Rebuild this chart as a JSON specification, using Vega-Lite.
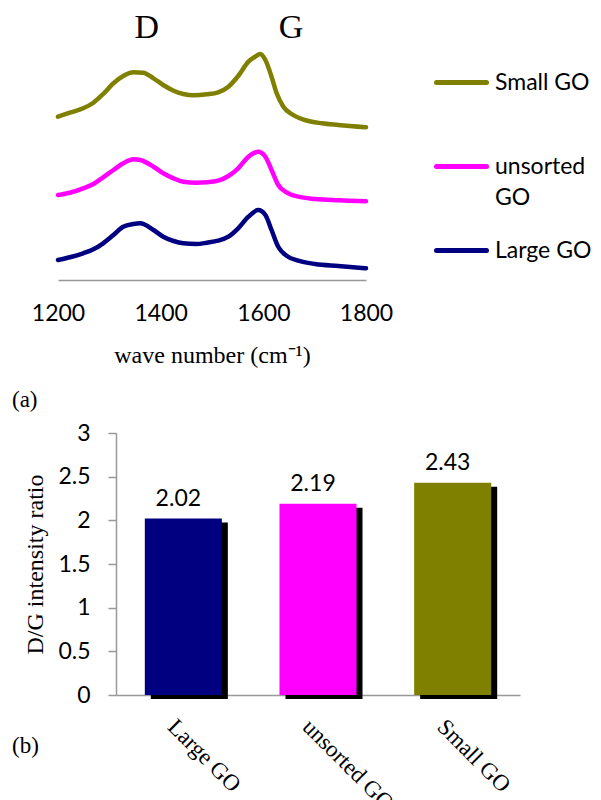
{
  "$schema": "https://vega.github.io/schema/vega-lite/v6.json",
  "background": "white",
  "padding": {"left": 12, "top": 10, "right": 0, "bottom": 0},
  "spacing": 10,
  "resolve": {"scale": {"color": "independent"}, "legend": {"color": "independent"}},
  "config": {
    "view": {"stroke": null},
    "axis": {"grid": false, "domainColor": "#999999", "domainWidth": 1.5, "labelColor": "black", "titleColor": "black", "labelFont": "Lato", "labelFontSize": 23, "titleFont": "Liberation Serif", "titleFontSize": 24, "titleFontWeight": "normal"}
  },
  "vconcat": [
    {
      "width": 250,
      "height": 270,
      "title": {"text": "(a)", "orient": "bottom", "anchor": "start", "frame": "group", "dx": -104, "offset": 22, "font": "Liberation Serif", "fontSize": 23, "fontWeight": "normal", "color": "black"},
      "layer": [
        {
          "data": {"values": [
            {"sample": "Small GO", "wavenumber": 1200, "intensity": 163.3},
            {"sample": "Small GO", "wavenumber": 1223, "intensity": 167.3},
            {"sample": "Small GO", "wavenumber": 1249, "intensity": 171.7},
            {"sample": "Small GO", "wavenumber": 1269, "intensity": 177.3},
            {"sample": "Small GO", "wavenumber": 1288, "intensity": 186},
            {"sample": "Small GO", "wavenumber": 1308, "intensity": 196.7},
            {"sample": "Small GO", "wavenumber": 1327, "intensity": 204},
            {"sample": "Small GO", "wavenumber": 1347, "intensity": 207.7},
            {"sample": "Small GO", "wavenumber": 1366, "intensity": 207.3},
            {"sample": "Small GO", "wavenumber": 1386, "intensity": 201.7},
            {"sample": "Small GO", "wavenumber": 1405, "intensity": 195},
            {"sample": "Small GO", "wavenumber": 1425, "intensity": 189.3},
            {"sample": "Small GO", "wavenumber": 1444, "intensity": 186},
            {"sample": "Small GO", "wavenumber": 1464, "intensity": 184.7},
            {"sample": "Small GO", "wavenumber": 1490, "intensity": 185.7},
            {"sample": "Small GO", "wavenumber": 1512, "intensity": 187.7},
            {"sample": "Small GO", "wavenumber": 1532, "intensity": 193.3},
            {"sample": "Small GO", "wavenumber": 1551, "intensity": 204},
            {"sample": "Small GO", "wavenumber": 1571, "intensity": 218.3},
            {"sample": "Small GO", "wavenumber": 1584, "intensity": 223.3},
            {"sample": "Small GO", "wavenumber": 1594, "intensity": 226},
            {"sample": "Small GO", "wavenumber": 1604, "intensity": 220},
            {"sample": "Small GO", "wavenumber": 1616, "intensity": 203.3},
            {"sample": "Small GO", "wavenumber": 1626, "intensity": 186.7},
            {"sample": "Small GO", "wavenumber": 1639, "intensity": 173.3},
            {"sample": "Small GO", "wavenumber": 1655, "intensity": 166},
            {"sample": "Small GO", "wavenumber": 1681, "intensity": 160},
            {"sample": "Small GO", "wavenumber": 1714, "intensity": 156.7},
            {"sample": "Small GO", "wavenumber": 1746, "intensity": 155},
            {"sample": "Small GO", "wavenumber": 1800, "intensity": 152.7},
            {"sample": "unsorted GO", "wavenumber": 1200, "intensity": 85},
            {"sample": "unsorted GO", "wavenumber": 1223, "intensity": 87.3},
            {"sample": "unsorted GO", "wavenumber": 1249, "intensity": 91.7},
            {"sample": "unsorted GO", "wavenumber": 1269, "intensity": 96},
            {"sample": "unsorted GO", "wavenumber": 1288, "intensity": 102.7},
            {"sample": "unsorted GO", "wavenumber": 1308, "intensity": 110},
            {"sample": "unsorted GO", "wavenumber": 1327, "intensity": 116.7},
            {"sample": "unsorted GO", "wavenumber": 1347, "intensity": 120.7},
            {"sample": "unsorted GO", "wavenumber": 1360, "intensity": 120},
            {"sample": "unsorted GO", "wavenumber": 1386, "intensity": 113.3},
            {"sample": "unsorted GO", "wavenumber": 1405, "intensity": 106.7},
            {"sample": "unsorted GO", "wavenumber": 1425, "intensity": 101.7},
            {"sample": "unsorted GO", "wavenumber": 1444, "intensity": 98.3},
            {"sample": "unsorted GO", "wavenumber": 1470, "intensity": 97.3},
            {"sample": "unsorted GO", "wavenumber": 1490, "intensity": 97.7},
            {"sample": "unsorted GO", "wavenumber": 1512, "intensity": 99.3},
            {"sample": "unsorted GO", "wavenumber": 1532, "intensity": 104},
            {"sample": "unsorted GO", "wavenumber": 1551, "intensity": 111.7},
            {"sample": "unsorted GO", "wavenumber": 1571, "intensity": 123.3},
            {"sample": "unsorted GO", "wavenumber": 1590, "intensity": 128.3},
            {"sample": "unsorted GO", "wavenumber": 1604, "intensity": 123.3},
            {"sample": "unsorted GO", "wavenumber": 1616, "intensity": 110},
            {"sample": "unsorted GO", "wavenumber": 1629, "intensity": 95},
            {"sample": "unsorted GO", "wavenumber": 1646, "intensity": 87.3},
            {"sample": "unsorted GO", "wavenumber": 1668, "intensity": 83.3},
            {"sample": "unsorted GO", "wavenumber": 1701, "intensity": 81},
            {"sample": "unsorted GO", "wavenumber": 1746, "intensity": 79.7},
            {"sample": "unsorted GO", "wavenumber": 1800, "intensity": 78.7},
            {"sample": "Large GO", "wavenumber": 1200, "intensity": 20},
            {"sample": "Large GO", "wavenumber": 1223, "intensity": 22.7},
            {"sample": "Large GO", "wavenumber": 1249, "intensity": 26.7},
            {"sample": "Large GO", "wavenumber": 1269, "intensity": 30.7},
            {"sample": "Large GO", "wavenumber": 1288, "intensity": 36.7},
            {"sample": "Large GO", "wavenumber": 1308, "intensity": 45},
            {"sample": "Large GO", "wavenumber": 1327, "intensity": 53.3},
            {"sample": "Large GO", "wavenumber": 1347, "intensity": 56},
            {"sample": "Large GO", "wavenumber": 1360, "intensity": 56.7},
            {"sample": "Large GO", "wavenumber": 1386, "intensity": 50},
            {"sample": "Large GO", "wavenumber": 1405, "intensity": 43.3},
            {"sample": "Large GO", "wavenumber": 1425, "intensity": 39},
            {"sample": "Large GO", "wavenumber": 1444, "intensity": 36.7},
            {"sample": "Large GO", "wavenumber": 1470, "intensity": 36},
            {"sample": "Large GO", "wavenumber": 1490, "intensity": 37.3},
            {"sample": "Large GO", "wavenumber": 1512, "intensity": 39.3},
            {"sample": "Large GO", "wavenumber": 1532, "intensity": 43.3},
            {"sample": "Large GO", "wavenumber": 1551, "intensity": 51.7},
            {"sample": "Large GO", "wavenumber": 1571, "intensity": 63.3},
            {"sample": "Large GO", "wavenumber": 1590, "intensity": 70},
            {"sample": "Large GO", "wavenumber": 1604, "intensity": 65},
            {"sample": "Large GO", "wavenumber": 1616, "intensity": 50},
            {"sample": "Large GO", "wavenumber": 1629, "intensity": 33.3},
            {"sample": "Large GO", "wavenumber": 1646, "intensity": 24},
            {"sample": "Large GO", "wavenumber": 1668, "intensity": 19.3},
            {"sample": "Large GO", "wavenumber": 1701, "intensity": 16},
            {"sample": "Large GO", "wavenumber": 1746, "intensity": 14},
            {"sample": "Large GO", "wavenumber": 1800, "intensity": 11.7}
          ]},
          "mark": {"type": "line", "strokeWidth": 4.5, "interpolate": "monotone", "strokeCap": "round", "strokeJoin": "round"},
          "encoding": {
            "x": {"field": "wavenumber", "type": "quantitative", "scale": {"domain": [1200, 1800], "range": [-58, 250], "nice": false, "zero": false},
                  "axis": {"values": [1200, 1400, 1600, 1800], "format": "d", "ticks": false, "tickSize": 0, "labelPadding": 22, "labelFlush": false, "title": "wave number (cm⁻¹)", "titlePadding": 18}},
            "y": {"field": "intensity", "type": "quantitative", "scale": {"domain": [0, 270], "nice": false, "zero": false}, "axis": null},
            "color": {"field": "sample", "type": "nominal",
                      "scale": {"domain": ["Small GO", "unsorted GO", "Large GO"], "range": ["#808000", "#FF00FF", "#000080"]},
                      "legend": {"orient": "none", "legendX": 318, "legendY": 45, "title": null, "symbolType": "stroke", "symbolSize": 2500, "symbolStrokeWidth": 5,
                                 "labelFont": "Lato", "labelFontSize": 23, "labelColor": "black", "labelOffset": 6, "rowPadding": 13, "gridAlign": "all", "labelLimit": 200,
                                 "labelExpr": "datum.label == 'unsorted GO' ? ['unsorted', 'GO'] : datum.label",
                                 "encode": {"symbols": {"update": {"strokeCap": {"value": "round"}}},
                                            "labels": {"update": {"lineHeight": {"value": 31}}}}}}
          }
        },
        {
          "data": {"values": [
            {"peak": "D", "wavenumber": 1373, "intensity": 252},
            {"peak": "G", "wavenumber": 1654, "intensity": 252}
          ]},
          "mark": {"type": "text", "font": "Liberation Serif", "fontSize": 34, "baseline": "middle", "color": "black"},
          "encoding": {
            "x": {"field": "wavenumber", "type": "quantitative"},
            "y": {"field": "intensity", "type": "quantitative"},
            "text": {"field": "peak"}
          }
        }
      ]
    },
    {
      "width": 404,
      "height": 262,
      "title": {"text": "(b)", "orient": "bottom", "anchor": "start", "frame": "group", "dx": -104, "dy": -80, "offset": 0, "font": "Liberation Serif", "fontSize": 23, "fontWeight": "normal", "color": "black"},
      "data": {"values": [
        {"sample": "Large GO", "ratio": 2.02},
        {"sample": "unsorted GO", "ratio": 2.19},
        {"sample": "Small GO", "ratio": 2.43}
      ]},
      "encoding": {
        "x": {"field": "sample", "type": "nominal", "sort": null, "scale": {"paddingInner": 0.428, "paddingOuter": 0.214},
              "axis": {"title": null, "labelAngle": 45, "labelAlign": "left", "labelBaseline": "top", "labelFont": "Liberation Serif", "labelFontSize": 23, "labelPadding": 20, "labelOffset": -4, "ticks": false, "tickSize": 0, "labelLimit": 300}},
        "y": {"field": "ratio", "type": "quantitative", "scale": {"domain": [0, 3], "nice": false},
              "axis": {"title": "D/G intensity ratio", "values": [0, 0.5, 1, 1.5, 2, 2.5, 3], "format": "~g", "tickSize": 8, "tickColor": "#999999", "tickWidth": 1.5, "labelPadding": 18, "titlePadding": 10}}
      },
      "layer": [
        {"mark": {"type": "bar", "color": "black", "xOffset": 6, "yOffset": 4, "y2Offset": 4}},
        {"mark": {"type": "bar"},
         "encoding": {"color": {"field": "sample", "type": "nominal", "scale": {"domain": ["Large GO", "unsorted GO", "Small GO"], "range": ["#000080", "#FF00FF", "#808000"]}, "legend": null}}},
        {"mark": {"type": "text", "dy": -20, "dx": -5, "font": "Lato", "fontSize": 23, "baseline": "middle", "color": "black"},
         "encoding": {"text": {"field": "ratio", "type": "quantitative", "format": ".2f"}}}
      ]
    }
  ]
}
